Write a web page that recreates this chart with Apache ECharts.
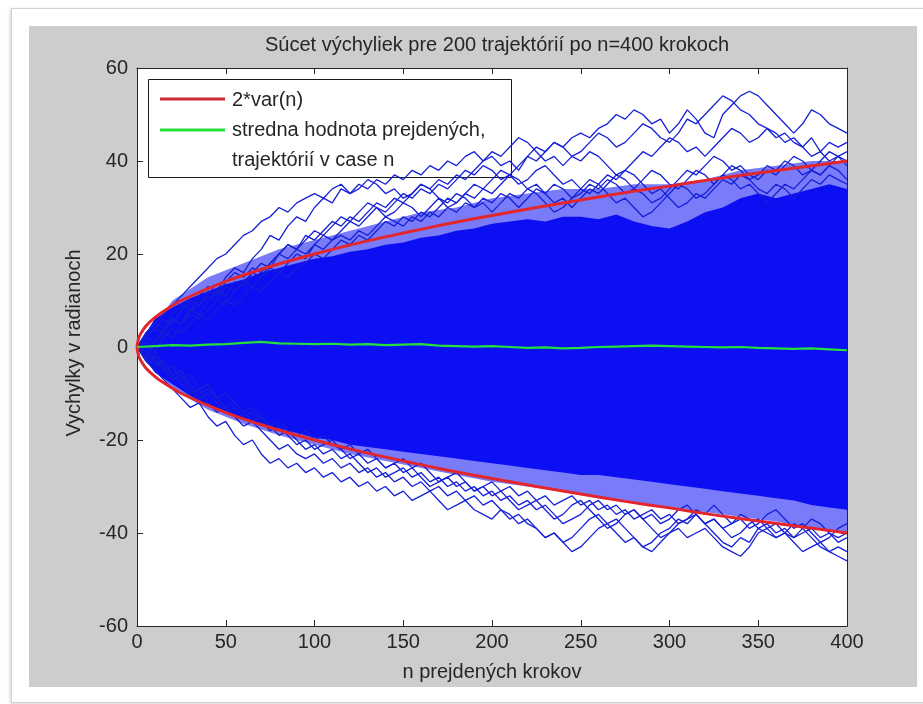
<!DOCTYPE html>
<html>
<head>
<meta charset="utf-8">
<script src="https://cdn.jsdelivr.net/npm/echarts@6/dist/echarts.min.js"></script>
<style>
  html, body { margin: 0; padding: 0; background: #ffffff; width: 923px; height: 704px; overflow: hidden; }
  #frame { position: absolute; left: 11px; top: 8px; width: 940px; height: 693px; border: 1px solid #d2d2d2; background: #fff; box-shadow: -1px 1px 3px rgba(0,0,0,0.18); }
  #panel { position: absolute; left: 29px; top: 26px; width: 888px; height: 661px; background: #cdcdcd; }
  #chart { position: absolute; left: 0; top: 0; width: 923px; height: 704px; }
</style>
</head>
<body>
<div id="frame"></div>
<div id="panel"></div>
<div id="chart"></div>
<script>
// Axes
const xTicks = [0, 50, 100, 150, 200, 250, 300, 350, 400];
const yTicks = [-60, -40, -20, 0, 20, 40, 60];

// Dense core of the bundle of trajectories (every 10 steps, n = 0..400)
const coreUpper = [0, 6, 8.5, 10.5, 12, 13.5, 14.5, 16, 17, 18, 19, 19.5, 20.5, 21, 22, 22.5, 23.5, 24, 25, 25.5,
  26.5, 27, 27.5, 27, 28, 28, 27.5, 28.5, 27, 26, 25.5, 27, 29, 30, 32, 33, 32, 33, 34, 35, 34];
const coreLower = [0, -5.5, -8, -10.5, -12.5, -14, -15.5, -16.5, -17.5, -18.5, -19.5, -20, -21, -21.5, -22, -22.5, -23, -23.5, -24, -24.5,
  -25, -25.5, -26, -26.5, -27, -27.5, -27.5, -28, -28.5, -29, -29.5, -30, -30.5, -31, -31.5, -32, -32.5, -33, -34, -34.5, -35];

// Looser fringe of crossing trajectories (every 20 steps)
const fringeUpper = [0, 10, 15, 18, 21, 23, 25, 27, 29, 30, 32, 33, 34, 34, 35, 35, 36, 38, 39, 40, 40];
const fringeLower = [0, -9, -13.5, -16.5, -19, -21, -23, -24.5, -26, -27.5, -29, -30, -31, -32.5, -33.5, -34.5, -35.5, -36.5, -37.5, -39, -40];

// Outer trajectories (every 5 steps, n = 0..400)
const walkU1 = [0, 3, 5, 4, 7, 9, 8, 11, 13, 12, 15, 17, 16, 19, 21, 24, 23, 26, 28, 27,
  30, 32, 31, 34, 33, 35, 34, 36, 35, 37, 36, 38, 37, 39, 38, 40, 39, 41, 42, 40,
  41, 39, 40, 38, 41, 43, 42, 44, 43, 45, 46, 45, 47, 48, 50, 49, 51, 50, 48, 49,
  46, 48, 51, 49, 46, 45, 50, 52, 54, 55, 54, 52, 50, 48, 46, 48, 51, 50, 48, 47, 46];
const walkU2 = [0, -2, 1, 3, 2, 5, 7, 6, 8, 10, 9, 12, 14, 13, 15, 17, 16, 18, 20, 19,
  22, 24, 23, 25, 27, 26, 28, 30, 29, 31, 33, 32, 34, 33, 35, 34, 36, 38, 37, 39,
  38, 36, 37, 39, 41, 40, 42, 44, 43, 41, 42, 44, 46, 45, 43, 44, 46, 48, 47, 45,
  44, 46, 49, 48, 50, 52, 54, 53, 51, 50, 48, 47, 45, 46, 44, 43, 45, 42, 44, 43, 44];
const walkU3 = [0, 2, 4, 3, 6, 5, 8, 9, 11, 10, 13, 12, 14, 16, 15, 18, 20, 22, 21, 24,
  23, 25, 27, 26, 28, 27, 29, 31, 30, 32, 31, 33, 35, 34, 36, 35, 37, 36, 38, 40,
  42, 41, 43, 45, 44, 42, 40, 41, 39, 41, 40, 42, 41, 39, 37, 38, 40, 42, 41, 43,
  45, 44, 42, 43, 41, 43, 45, 47, 46, 44, 45, 47, 46, 44, 45, 43, 41, 42, 40, 41, 40];
const walkU4 = [0, 1, -1, 2, 4, 3, 5, 7, 6, 8, 10, 9, 11, 13, 12, 14, 16, 15, 17, 18,
  20, 19, 21, 23, 22, 24, 23, 25, 27, 26, 28, 27, 29, 28, 30, 32, 31, 33, 32, 34,
  33, 35, 37, 36, 34, 35, 33, 31, 32, 30, 32, 34, 33, 35, 37, 36, 34, 33, 31, 32,
  34, 36, 38, 37, 39, 41, 40, 38, 39, 37, 36, 38, 37, 39, 41, 40, 38, 37, 39, 38, 36];
const walkU5 = [0, 3, 5, 7, 9, 11, 13, 15, 17, 19, 20, 22, 24, 25, 27, 28, 30, 29, 31, 32,
  33, 32, 34, 35, 33, 34, 36, 35, 33, 34, 32, 33, 35, 34, 32, 30, 31, 33, 35, 34,
  36, 38, 37, 35, 36, 38, 39, 37, 35, 36, 34, 33, 35, 37, 36, 38, 37, 35, 33, 34,
  32, 30, 31, 33, 32, 34, 36, 35, 37, 36, 34, 33, 35, 34, 32, 34, 36, 35, 37, 36, 35];
const walkU6 = [0, 2, 1, 4, 6, 5, 8, 7, 10, 12, 11, 14, 13, 16, 18, 17, 20, 22, 21, 23,
  25, 24, 26, 28, 27, 29, 31, 30, 28, 29, 31, 30, 28, 30, 32, 31, 33, 32, 30, 31,
  29, 31, 33, 32, 34, 33, 31, 29, 30, 32, 34, 36, 35, 33, 31, 32, 30, 28, 29, 31,
  33, 35, 34, 32, 33, 35, 37, 36, 34, 35, 33, 31, 33, 35, 34, 36, 38, 37, 39, 41, 42];
const walkU7 = [0, 2, 4, 6, 5, 8, 10, 9, 12, 11, 14, 16, 15, 17, 16, 18, 20, 19, 21, 20,
  22, 21, 23, 24, 23, 25, 24, 26, 28, 27, 26, 28, 27, 29, 28, 30, 29, 31, 30, 32,
  31, 33, 32, 30, 32, 34, 33, 35, 34, 32, 33, 35, 34, 36, 35, 33, 34, 36, 38, 37,
  35, 34, 36, 38, 37, 35, 37, 39, 38, 36, 37, 39, 38, 40, 39, 37, 38, 40, 42, 41, 39];
const walkL1 = [0, -3, -5, -7, -9, -11, -13, -12, -15, -17, -16, -19, -21, -20, -23, -25, -24, -26, -25, -27,
  -26, -28, -27, -29, -28, -30, -29, -31, -30, -32, -31, -33, -32, -31, -33, -35, -34, -33, -35, -36,
  -37, -35, -36, -38, -37, -39, -41, -40, -42, -44, -43, -41, -39, -38, -40, -42, -41, -43, -44, -42,
  -40, -39, -41, -40, -39, -41, -43, -44, -45, -43, -40, -39, -38, -40, -41, -39, -41, -43, -44, -45, -46];
const walkL2 = [0, -2, -4, -3, -6, -8, -10, -9, -12, -14, -13, -15, -17, -16, -18, -20, -22, -21, -23, -24,
  -23, -25, -24, -26, -25, -27, -26, -28, -27, -29, -28, -30, -29, -31, -30, -32, -31, -33, -32, -34,
  -33, -35, -37, -36, -38, -39, -41, -40, -42, -41, -39, -37, -36, -38, -37, -39, -41, -43, -42, -40,
  -39, -37, -38, -36, -38, -40, -42, -43, -41, -42, -39, -40, -41, -40, -42, -44, -43, -42, -44, -43, -44];
const walkL3 = [0, -1, -3, -5, -4, -7, -6, -9, -8, -11, -13, -12, -14, -16, -15, -17, -19, -18, -20, -22,
  -21, -23, -22, -24, -23, -25, -27, -26, -28, -27, -26, -28, -27, -29, -28, -30, -29, -31, -30, -32,
  -31, -33, -32, -34, -33, -35, -34, -36, -38, -37, -36, -34, -33, -35, -34, -36, -35, -37, -36, -38,
  -37, -35, -34, -36, -38, -37, -39, -41, -40, -38, -37, -39, -41, -40, -38, -39, -37, -38, -40, -41, -40];
const walkL4 = [0, -2, -1, -4, -6, -5, -8, -10, -9, -11, -10, -12, -14, -13, -15, -17, -16, -18, -19, -18,
  -20, -19, -21, -22, -21, -23, -22, -24, -26, -25, -24, -26, -25, -27, -29, -28, -27, -29, -31, -30,
  -32, -31, -33, -35, -34, -33, -35, -37, -36, -34, -33, -35, -37, -39, -38, -36, -35, -37, -39, -41,
  -40, -38, -37, -35, -36, -34, -36, -38, -37, -39, -38, -36, -35, -37, -39, -38, -40, -42, -41, -39, -38];
const walkL5 = [0, -3, -2, -5, -7, -6, -9, -11, -10, -12, -14, -13, -15, -14, -16, -18, -17, -19, -21, -20,
  -22, -21, -20, -22, -24, -23, -25, -24, -26, -25, -27, -26, -28, -30, -29, -28, -30, -29, -31, -30,
  -29, -31, -30, -32, -31, -33, -32, -34, -33, -32, -34, -33, -35, -34, -36, -35, -37, -36, -35, -37,
  -36, -38, -37, -36, -38, -37, -39, -38, -36, -37, -39, -38, -40, -39, -41, -40, -39, -41, -40, -42, -41];

// Envelope of twice the spread, read along n
const boundN = [0, 1, 2, 5, 10, 15, 25, 50, 75, 100, 125, 150, 175, 200, 225, 250, 275, 300, 325, 350, 375, 400];
const boundUpper = [0, 2, 2.8, 4.5, 6.3, 7.7, 10, 14.1, 17.3, 20, 22.4, 24.5, 26.5, 28.3, 30, 31.6, 33.2, 34.6, 36.1, 37.4, 38.7, 40];
const boundLower = [0, -2, -2.8, -4.5, -6.3, -7.7, -10, -14.1, -17.3, -20, -22.4, -24.5, -26.5, -28.3, -30, -31.6, -33.2, -34.6, -36.1, -37.4, -38.7, -40];

// Mean of all trajectories (every 10 steps)
const meanPath = [0, 0.2, 0.4, 0.3, 0.5, 0.6, 0.9, 1.1, 0.8, 0.7, 0.6, 0.7, 0.5, 0.6, 0.4, 0.5, 0.6, 0.3, 0.2, 0.1,
  0.2, 0.0, -0.2, -0.1, -0.3, -0.2, 0.0, 0.1, 0.2, 0.3, 0.2, 0.1, 0.0, -0.1, 0.0, -0.2, -0.3, -0.4, -0.3, -0.5, -0.7];

const titleText = 'Súcet výchyliek pre 200 trajektórií po n=400 krokoch';
const xName = 'n prejdených krokov';
const yName = 'Vychylky v radianoch';
const legendRed = '2*var(n)';
const legendGreen = ['stredna hodnota prejdených,', 'trajektórií v case n'];

const FONT = '"Liberation Sans", Arial, sans-serif';
const INK = '#262626';
const BLUE_FILL = '#0b0ff2';
const BLUE_LINE = '#1620d6';
const RED = '#e3262b';
const GREEN = '#25e03c';

function pairs(values, step) { return values.map((v, i) => [i * step, v]); }
function zipN(ns, values) { return ns.map((n, i) => [n, values[i]]); }

function areaSeries(data, color, opacity, z) {
  return { type: 'line', data, symbol: 'none', silent: true, z,
    lineStyle: { width: 0 }, areaStyle: { color, opacity, origin: 0 } };
}
function walkSeries(values) {
  return { type: 'line', data: pairs(values, 5), symbol: 'none', silent: true, z: 4,
    lineStyle: { color: BLUE_LINE, width: 1.3 } };
}

const chart = echarts.init(document.getElementById('chart'), null, { renderer: 'canvas' });

const series = [
  areaSeries(pairs(fringeUpper, 20), BLUE_FILL, 0.55, 2),
  areaSeries(pairs(fringeLower, 20), BLUE_FILL, 0.55, 2),
  areaSeries(pairs(coreUpper, 10), BLUE_FILL, 1, 3),
  areaSeries(pairs(coreLower, 10), BLUE_FILL, 1, 3),
  ...[walkU1, walkU2, walkU3, walkU4, walkU5, walkU6, walkU7, walkL1, walkL2, walkL3, walkL4, walkL5].map(walkSeries),
  { type: 'line', name: legendRed, data: zipN(boundN, boundUpper), smooth: 0.3, symbol: 'none', z: 6,
    lineStyle: { color: RED, width: 3 } },
  { type: 'line', name: legendRed, data: zipN(boundN, boundLower), smooth: 0.3, symbol: 'none', z: 6,
    lineStyle: { color: RED, width: 3 } },
  { type: 'line', name: 'mean', data: pairs(meanPath, 10), symbol: 'none', z: 7,
    lineStyle: { color: GREEN, width: 2.2 } }
];

const axisCommon = {
  axisLine: { show: true, onZero: false, lineStyle: { color: INK, width: 1 } },
  axisTick: { show: true, inside: true, length: 6, lineStyle: { color: INK } },
  splitLine: { show: false }
};

chart.setOption({
  animation: false,
  backgroundColor: 'transparent',
  textStyle: { fontFamily: FONT },
  title: {
    text: titleText, left: 492, top: 30, textAlign: 'center',
    textStyle: { fontFamily: FONT, fontSize: 20, fontWeight: 'normal', color: INK }
  },
  grid: { left: 137, right: 76, top: 68, bottom: 78, show: true, backgroundColor: '#ffffff', borderWidth: 0 },
  xAxis: [
    Object.assign({ type: 'value', min: xTicks[0], max: xTicks[xTicks.length - 1], interval: xTicks[1] - xTicks[0],
      position: 'bottom',
      axisLabel: { fontFamily: FONT, fontSize: 20, color: INK, margin: 6 } }, axisCommon),
    Object.assign({ type: 'value', min: xTicks[0], max: xTicks[xTicks.length - 1], interval: xTicks[1] - xTicks[0],
      position: 'top', axisLabel: { show: false } }, axisCommon)
  ],
  yAxis: [
    Object.assign({ type: 'value', min: yTicks[0], max: yTicks[yTicks.length - 1], interval: yTicks[1] - yTicks[0],
      position: 'left',
      axisLabel: { fontFamily: FONT, fontSize: 20, color: INK, margin: 9 } }, axisCommon),
    Object.assign({ type: 'value', min: yTicks[0], max: yTicks[yTicks.length - 1], interval: yTicks[1] - yTicks[0],
      position: 'right', axisLabel: { show: false } }, axisCommon)
  ],
  series,
  graphic: [
    { type: 'text', x: 492, y: 672, z: 10,
      style: { text: xName, fontFamily: FONT, fontSize: 20, fill: INK, align: 'center', verticalAlign: 'middle' } },
    { type: 'text', x: 74, y: 343, rotation: Math.PI / 2, z: 10,
      style: { text: yName, fontFamily: FONT, fontSize: 20, fill: INK, align: 'center', verticalAlign: 'middle' } },
    { type: 'group', z: 50, children: [
      { type: 'rect', shape: { x: 148.5, y: 79.5, width: 363, height: 98 },
        style: { fill: '#ffffff', stroke: '#1a1a1a', lineWidth: 1 } },
      { type: 'line', shape: { x1: 160, y1: 99, x2: 225, y2: 99 }, style: { stroke: '#cf2a30', lineWidth: 3 } },
      { type: 'text', x: 232, y: 100, style: { text: legendRed, fontFamily: FONT, fontSize: 20, fill: INK, verticalAlign: 'middle' } },
      { type: 'line', shape: { x1: 160, y1: 130, x2: 225, y2: 130 }, style: { stroke: GREEN, lineWidth: 3 } },
      { type: 'text', x: 232, y: 130, style: { text: legendGreen[0], fontFamily: FONT, fontSize: 20, fill: INK, verticalAlign: 'middle' } },
      { type: 'text', x: 232, y: 160, style: { text: legendGreen[1], fontFamily: FONT, fontSize: 20, fill: INK, verticalAlign: 'middle' } }
    ] }
  ]
});
</script>
</body>
</html>
